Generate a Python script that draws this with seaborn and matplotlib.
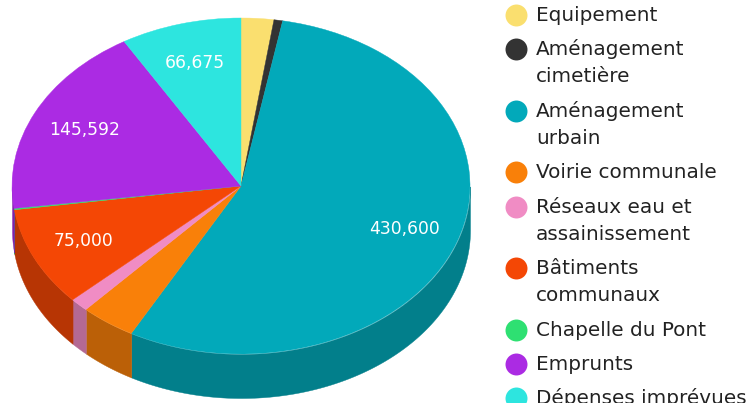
import numpy as np
import seaborn as sns
import matplotlib.pyplot as plt

# Budget par poste
labels = ["Equipement", "Aménagement\ncimetière", "Aménagement\nurbain",
          "Voirie communale", "Réseaux eau et\nassainissement",
          "Bâtiments\ncommunaux", "Chapelle du Pont", "Emprunts",
          "Dépenses imprévues"]
values = [18000, 4800, 430600, 30450, 10200, 75000, 1000, 145592, 66675]
colors = ["#FADF6F", "#333333", "#02A9BA", "#F98009", "#F08CC4",
          "#F44705", "#2EE072", "#AB2BE3", "#2DE5DF"]

sns.set_theme(style="white")
palette = sns.color_palette(colors)
total = sum(values)


def show_value(pct):
    val = int(round(pct * total / 100))
    return f"{val:,}" if val > 60000 else ""


fig = plt.figure(figsize=(7.49, 4.03), dpi=100)
ax = fig.add_axes([0, 0, 1, 1])
wedges, _, autotexts = ax.pie(
    values,
    colors=palette,
    startangle=90,
    counterclock=False,
    autopct=show_value,
    pctdistance=0.76,
    textprops={"color": "white", "fontsize": 12.3, "family": "DejaVu Sans", "zorder": 4},
)
for wedge, col in zip(wedges, palette):
    wedge.set_edgecolor(col)
    wedge.set_linewidth(0.3)
    wedge.set_zorder(3)

# Ellipse: 1 unit = 229 px in x and 168 px in y, centre at pixel (241, 186)
ax.set_aspect("auto")
ax.set_xlim(-241 / 229, 508 / 229)
ax.set_ylim(-217 / 168, 186 / 168)
ax.axis("off")

# Side wall of the pie, only the front half is visible
depth = 44 / 168
for wedge, col in zip(wedges, palette):
    t = np.radians(np.linspace(wedge.theta1, wedge.theta2, 200))
    keep = np.sin(t) <= 0
    if keep.any():
        dark = tuple(c * 0.75 for c in col)
        x = np.cos(t[keep])
        y = np.sin(t[keep])
        ax.fill_between(x, y, y - depth, color=dark, linewidth=0.3, zorder=2)

# Legend, drawn in pixel coordinates
leg = fig.add_axes([0, 0, 1, 1])
leg.set_xlim(0, 749)
leg.set_ylim(403, 0)
leg.axis("off")
leg.patch.set_alpha(0)

y = 15
for lab, col in zip(labels, palette):
    leg.scatter(516, y, s=250, color=col, linewidth=0, clip_on=False)
    lines = lab.split("\n")
    for i, line in enumerate(lines):
        leg.text(536, y + 6 + i * 27, line, fontsize=14.4, color="#222222",
                 family="DejaVu Sans", va="baseline", ha="left")
    y += 34.3 + (len(lines) - 1) * 27.2

plt.savefig("out.png", dpi=100)
